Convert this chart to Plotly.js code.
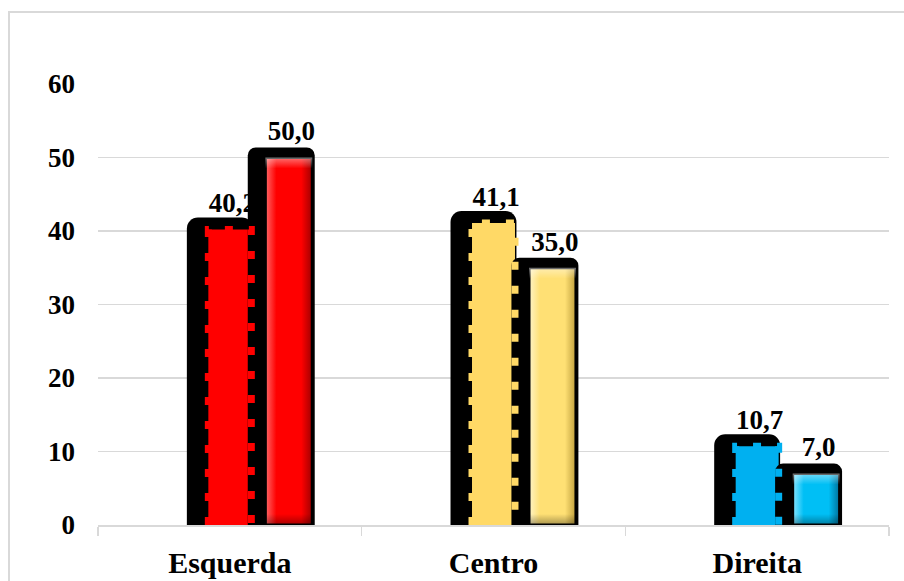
<!DOCTYPE html>
<html>
<head>
<meta charset="utf-8">
<script src="https://cdn.plot.ly/plotly-3.0.1.min.js"></script>
<style>
  html, body { margin: 0; padding: 0; background: #fff; overflow: hidden; }
  #chart { width: 904px; height: 581px; position: relative; }
  #frame { position: absolute; left: 8px; top: 11px; width: 1000px; height: 1000px;
           border: 2px solid #d9d9d9; pointer-events: none; }
</style>
</head>
<body>
<div id="chart"></div>
<div id="frame"></div>
<script>
// Chart data
const categories = ['Esquerda', 'Centro', 'Direita'];
const seriesA = [40.2, 41.1, 10.7];
const seriesB = [50.0, 35.0, 7.0];
const colorsA = ['#FF0000', '#FFD966', '#00B0F0'];
const colorsB = ['#FF0000', '#FFE074', '#00BFF5'];
const yTicks = [0, 10, 20, 30, 40, 50, 60];

// Bevel shading for the second series: [light edge, face, dark edge]
const bevelB = [
  ['#ff6a6a', '#ff0000', '#a00000'],
  ['#fff4c8', '#ffe074', '#bf9f3c'],
  ['#8ae5ff', '#00bff5', '#006f99']
];

const xs = categories.map((_, i) => i);
const fmt = v => v.toFixed(1).replace('.', ',');

// Bar geometry in category units
const A_W = 0.163, A_OFF = -0.0815;
const A_SH_W = 0.25, A_SH_OFF = -0.163, A_SH_LIFT = 1.63;
const B_W = 0.178, B_OFF = 0.1347;
const B_SH_W = 0.254, B_SH_OFF = 0.068, B_SH_LIFT = 1.36;
const LABEL_LIFT = 1.1, LABEL_SHIFT = 0.0095;

const SERIF = '"Liberation Serif", "Times New Roman", Times, serif';
const labelFont = { family: SERIF, size: 27, color: '#000', weight: 'bold' };
const tickFont = { family: SERIF, size: 27, color: '#000', weight: 'bold' };

function barTrace(y, offset, width, marker, extra) {
  return Object.assign({
    type: 'bar', x: xs, y: y, offset: offset, width: width,
    marker: marker, hoverinfo: 'skip', showlegend: false
  }, extra || {});
}

const traces = [
  // first series: shadow, face, value labels
  barTrace(seriesA.map(v => v + A_SH_LIFT), A_SH_OFF, A_SH_W, { color: '#000', cornerradius: 11 }),
  barTrace(seriesA, A_OFF, A_W, { color: colorsA, line: { width: 0 } }),
  barTrace(seriesA.map(v => v + LABEL_LIFT), A_OFF + LABEL_SHIFT, A_W,
    { color: 'rgba(0,0,0,0)', line: { width: 0 } },
    { text: seriesA.map(fmt), textposition: 'outside', textfont: labelFont,
      constraintext: 'none', cliponaxis: false, textangle: 0 }),
  // second series: shadow, bevelled face, value labels
  barTrace(seriesB.map(v => v + B_SH_LIFT), B_SH_OFF, B_SH_W, { color: '#000', cornerradius: 8 }),
  barTrace(seriesB, B_OFF, B_W, { color: colorsB, line: { width: 3, color: '#000' } }),
  barTrace(seriesB.map(v => v + LABEL_LIFT), B_OFF + LABEL_SHIFT, B_W,
    { color: 'rgba(0,0,0,0)', line: { width: 0 } },
    { text: seriesB.map(fmt), textposition: 'outside', textfont: labelFont,
      constraintext: 'none', cliponaxis: false, textangle: 0 })
];

// Dashed outline around each bar of the first series
xs.forEach((c, i) => {
  const l = c + A_OFF, r = c + A_OFF + A_W, v = seriesA[i];
  traces.push({
    type: 'scatter', mode: 'lines',
    x: [l, l, r, r], y: [0, v, v, 0],
    line: { color: colorsA[i], width: 7, dash: '8px,16px' },
    hoverinfo: 'skip', showlegend: false, cliponaxis: false
  });
});

const layout = {
  width: 904, height: 581,
  margin: { l: 98, r: 15, t: 84, b: 56 },
  paper_bgcolor: '#fff', plot_bgcolor: '#fff',
  barmode: 'overlay',
  showlegend: false,
  font: { family: SERIF },
  xaxis: {
    range: [-0.5, 2.5], tickmode: 'array', tickvals: xs, ticktext: categories,
    ticks: '', showgrid: false, zeroline: false,
    showline: true, linecolor: '#d9d9d9', linewidth: 1.5,
    tickfont: Object.assign({}, tickFont, { size: 30 }),
    ticklabelstandoff: 10,
    minor: { tick0: -0.5, dtick: 1, ticks: 'outside', ticklen: 9, tickcolor: '#d9d9d9', tickwidth: 1.5, showgrid: false }
  },
  yaxis: {
    range: [0, 60], tickmode: 'array', tickvals: yTicks, ticktext: yTicks.map(String),
    showgrid: true, gridcolor: '#d9d9d9', gridwidth: 1.5,
    zeroline: false, showline: false, ticks: '',
    tickfont: tickFont, ticklabelstandoff: 22
  }
};

// Bevelled look for the second series faces: side shading on the face,
// plus a translucent top highlight / bottom shade layered over it.
function applyBevel(gd) {
  const svg = gd.querySelector('svg.main-svg');
  const ns = 'http://www.w3.org/2000/svg';
  let defs = svg.querySelector('defs');
  if (!defs) { defs = document.createElementNS(ns, 'defs'); svg.insertBefore(defs, svg.firstChild); }
  function grad(id, coords, stops) {
    const g = document.createElementNS(ns, 'linearGradient');
    g.setAttribute('id', id);
    g.setAttribute('gradientUnits', 'userSpaceOnUse');
    Object.keys(coords).forEach(k => g.setAttribute(k, coords[k]));
    stops.forEach(([o, col, op]) => {
      const s = document.createElementNS(ns, 'stop');
      s.setAttribute('offset', Math.max(0, Math.min(1, o)));
      s.setAttribute('stop-color', col);
      s.setAttribute('stop-opacity', op == null ? 1 : op);
      g.appendChild(s);
    });
    defs.appendChild(g);
  }
  const faceB = gd.querySelectorAll('.barlayer .trace')[4];
  if (!faceB) return;
  faceB.querySelectorAll('g.point path').forEach((p, i) => {
    const c = bevelB[Math.min(i, bevelB.length - 1)];
    const bb = p.getBBox();
    if (!bb.width || !bb.height) return;
    const e = 11;
    grad('bevH' + i, { x1: bb.x, y1: 0, x2: bb.x + bb.width, y2: 0 },
      [[0, c[0]], [e / bb.width, c[1]], [1 - e / bb.width, c[1]], [1, c[2]]]);
    grad('bevV' + i, { x1: 0, y1: bb.y, x2: 0, y2: bb.y + bb.height },
      [[0, '#ffffff', 0.45], [e / bb.height, '#ffffff', 0], [1 - e / bb.height, '#000000', 0], [1, '#000000', 0.35]]);
    p.style.setProperty('fill', 'url(#bevH' + i + ')', 'important');
    const over = p.cloneNode(false);
    over.setAttribute('style', 'fill:url(#bevV' + i + ');stroke:none;stroke-width:0;');
    p.parentNode.insertBefore(over, p.nextSibling);
  });
}

Plotly.newPlot('chart', traces, layout, { staticPlot: true, displayModeBar: false })
  .then(gd => { applyBevel(gd); });
</script>
</body>
</html>
